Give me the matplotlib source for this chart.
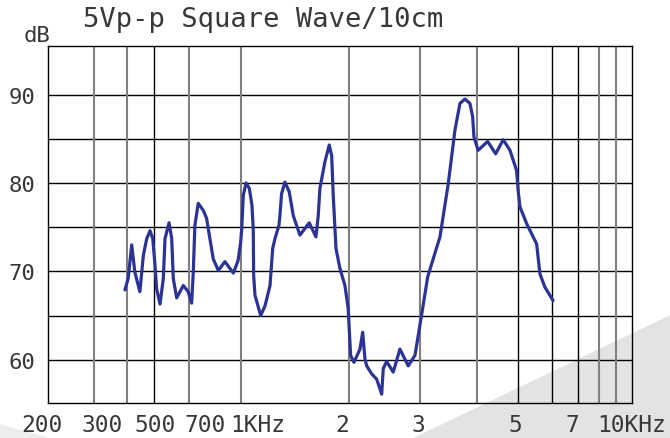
import numpy as np
import matplotlib.pyplot as plt
from matplotlib.patches import Polygon

# response curve, frequency in Hz / level in dB
freq = [393, 404, 416, 427, 445, 458, 471, 484, 495, 505, 513, 530, 547, 556, 578,
        593, 602, 622, 663, 695, 713, 721, 729, 746, 772, 790, 808, 827, 856, 896,
        949, 980, 998, 1005, 1015, 1033, 1055, 1073, 1082, 1085, 1094, 1135, 1167,
        1205, 1226, 1244, 1276, 1284, 1298, 1326, 1363, 1399, 1460, 1550, 1618, 1642,
        1660, 1714, 1762, 1790, 1808, 1840, 1888, 1949, 1990, 2019, 2058, 2130, 2163,
        2191, 2213, 2277, 2343, 2411, 2433, 2480, 2575, 2676, 2806, 2916, 3030, 3120,
        3319, 3460, 3580, 3671, 3765, 3861, 3914, 3940, 4026, 4240, 4429, 4615, 4787,
        4964, 5004, 5054, 5239, 5527, 5626, 5779, 6040]
db = [67.9, 69.2, 73.0, 69.9, 67.7, 71.8, 73.7, 74.6, 73.7, 70.7, 68.0, 66.3, 69.2, 73.7, 75.5,
      73.7, 69.2, 67.0, 68.4, 67.7, 66.4, 69.9, 75.2, 77.7, 76.9, 76.0, 73.7, 71.4, 70.1, 71.1,
      69.8, 71.2, 73.3, 74.8, 78.6, 80.0, 79.4, 77.5, 74.8, 69.5, 67.3, 65.0, 66.1,
      68.4, 72.6, 73.7, 75.2, 76.3, 78.8, 80.1, 79.0, 76.3, 74.1, 75.5, 73.9, 76.3,
      79.4, 82.4, 84.3, 83.1, 78.6, 72.6, 70.3, 68.4, 65.8, 60.5, 59.7, 61.2, 63.1,
      60.1, 59.3, 58.4, 57.8, 56.1, 59.0, 59.8, 58.6, 61.2, 59.3, 60.5, 65.3, 69.4,
      73.9, 79.9, 86.0, 89.0, 89.5, 89.0, 87.5, 85.2, 83.7, 84.7, 83.3, 84.9, 83.7,
      81.4, 79.2, 77.3, 75.4, 73.1, 69.7, 68.2, 66.7]

grid_freq = [200, 300, 400, 500, 700, 1000, 2000, 3000, 4000, 5000, 6000, 7000, 8000, 9000, 10000]
dark_lines = [500, 5000, 6000, 7000]
xlabels = ['200', '300', '500', '700', '1KHz', '2', '3', '5', '7', '10KHz']
xlabel_freq = [200, 300, 500, 700, 1000, 2000, 3000, 5000, 7000, 10000]
ylabel_vals = [60, 70, 80, 90]

# the paper's frequency axis is hand ruled, so map each grid line to where it sits
grid_pos = [48, 94, 127, 154, 189, 241, 349, 420, 477, 518, 552, 578, 599, 616, 632]
label_dx = [-6, 8, 1, 16, 17, -7, -2, -3, -6, 0]


def fwd(f):
    f = np.clip(np.asarray(f, dtype=float), 1, None)
    return np.interp(np.log10(f), np.log10(grid_freq), grid_pos)


def inv(p):
    return 10 ** np.interp(p, grid_pos, np.log10(grid_freq))


plt.rcParams['font.family'] = 'DejaVu Sans Mono'
txt_col = '#383838'

fig = plt.figure(figsize=(6.7, 4.39), dpi=100)
fig.patch.set_facecolor('white')

# grey corner shapes behind the chart
fig.add_artist(Polygon([(0.619, 0), (1, 0.278), (1, 0)], closed=True,
                       transform=fig.transFigure, color='#e3e3e3', zorder=-1))
fig.add_artist(Polygon([(0, 0.03), (0.07, 0), (0, 0)], closed=True,
                       transform=fig.transFigure, color='#ededed', zorder=-1))

ax = fig.add_axes([0.0716, 0.0797, 0.8716, 0.8132])
ax.patch.set_alpha(0)
ax.set_xscale('function', functions=(fwd, inv))
ax.set_xlim(200, 10000)
ax.set_ylim(55.1, 95.5)

for v in range(60, 95, 5):
    ax.axhline(v, color='black', lw=1.0, zorder=1)
for f in grid_freq[1:-1]:
    if f in dark_lines:
        ax.axvline(f, color='black', lw=1.0, zorder=1)
    else:
        ax.axvline(f, color='#808080', lw=1.5, zorder=1)

for s in ax.spines.values():
    s.set_color('black')
    s.set_linewidth(1.0)

ax.plot(freq, db, color='#2b3494', lw=2.3, solid_joinstyle='round',
        solid_capstyle='round', zorder=3)

ax.set_xticks([])
ax.set_xticks([], minor=True)
ax.set_yticks(ylabel_vals)
ax.set_yticklabels([str(v) for v in ylabel_vals])
ax.tick_params(axis='y', length=0, pad=9, labelsize=16, labelcolor=txt_col)

for lbl, f, dx in zip(xlabels, xlabel_freq, label_dx):
    ax.annotate(lbl, xy=(f, 0), xycoords=('data', 'axes fraction'),
                xytext=(dx, -21), textcoords='offset pixels',
                ha='center', va='center', fontsize=16.5, color=txt_col,
                annotation_clip=False)

ax.annotate('dB', xy=(0, 1), xycoords='axes fraction', xytext=(-11, 11),
            textcoords='offset pixels', ha='center', va='center',
            fontsize=16, color=txt_col)

fig.text(0.3925, 0.954, '5Vp-p Square Wave/10cm', ha='center', va='center',
         fontsize=19.5, color=txt_col)

fig.savefig('out.png', dpi=100)
